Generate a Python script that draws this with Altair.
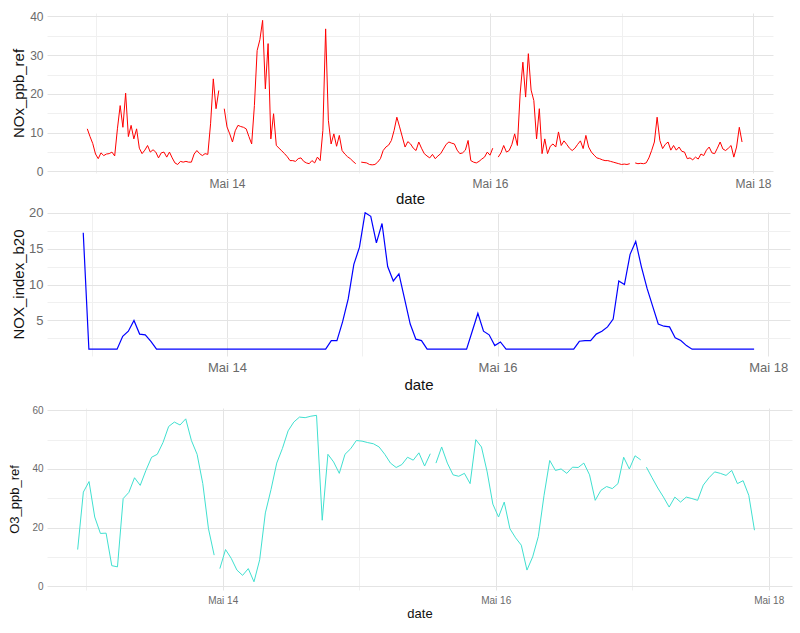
import altair as alt
import pandas as pd
from datetime import datetime, timedelta

FONT = "Liberation Sans"

# ---------------- data ----------------
series_start = datetime(2024, 5, 12, 22, 30)

# NOx_ppb_ref, half-hourly (None = missing)
nox_ppb_ref = [
    11.0, 9.0, 7.2, 4.5, 3.3, 4.8, 4.1, 4.5, 4.6, 5.0,
    4.0, 11.0, 17.0, 11.4, 20.2, 9.0, 11.9, 8.4, 11.0, 6.0,
    4.6, 5.5, 6.7, 5.0, 5.6, 5.0, 3.5, 4.8, 5.0, 3.7,
    5.0, 3.5, 2.2, 1.8, 2.6, 2.4, 2.6, 2.4, 2.4, 4.5,
    5.4, 4.6, 4.1, 4.6, 4.4, 12.3, 23.9, 16.2, 20.9, None,
    16.2, 11.5, 9.7, 7.6, 10.5, 11.9, 11.6, 11.4, 11.0, 9.0,
    7.1, 17.0, 31.2, 34.0, 39.0, 21.3, 33.0, 8.4, 14.9, 6.7,
    6.0, 5.3, 4.6, 3.8, 2.8, 2.8, 2.6, 3.3, 3.5, 2.6,
    2.2, 2.0, 2.8, 2.2, 3.7, 2.8, 10.6, 36.8, 13.2, 7.1,
    9.7, 6.5, 9.3, 5.4, 4.5, 3.8, 3.3, 2.6, 2.0, None,
    2.4, 2.3, 2.2, 1.8, 1.7, 1.8, 2.4, 3.3, 5.4, 6.3,
    6.8, 8.0, 10.6, 14.0, 11.5, 8.9, 6.3, 7.7, 7.1, 6.0,
    5.4, 7.6, 6.0, 4.6, 4.0, 3.5, 4.4, 3.3, 4.0, 4.6,
    5.8, 7.0, 7.6, 7.3, 7.1, 5.5, 4.6, 4.8, 5.5, 8.0,
    2.8, 2.4, 2.2, 2.6, 3.2, 3.7, 5.0, 4.2, 6.0, None,
    3.7, 4.8, 6.7, 5.0, 5.4, 7.0, 9.7, 6.7, 20.0, 28.2,
    19.2, 30.4, 21.0, 18.3, 8.4, 16.2, 4.6, 8.4, 4.6, 6.5,
    7.1, 6.3, 10.2, 6.7, 7.9, 7.0, 6.0, 5.4, 6.0, 7.0,
    7.9, 5.9, 9.3, 6.3, 5.0, 4.2, 3.5, 3.3, 3.0, 2.8,
    2.8, 2.6, 2.4, 2.2, 2.0, 1.8, 1.9, 1.8, 2.0, None,
    2.2, 2.0, 2.1, 2.0, 2.2, 3.5, 5.4, 7.6, 14.0, 8.0,
    5.9, 7.0, 7.6, 5.5, 6.7, 5.5, 6.3, 5.2, 5.0, 3.3,
    3.5, 3.0, 3.7, 3.2, 4.5, 4.1, 5.5, 6.3, 4.8, 4.6,
    6.0, 7.6, 5.8, 5.4, 6.0, 6.7, 3.7, 6.3, 11.4, 7.6,
]

# NOX_index_b20, hourly
nox_index_b20 = [
    17.2, 1, 1, 1, 1, 1, 1, 2.8, 3.5, 5.0,
    3.1, 3.0, 2.1, 1, 1, 1, 1, 1, 1, 1,
    1, 1, 1, 1, 1, 1, 1, 1, 1, 1,
    1, 1, 1, 1, 1, 1, 1, 1, 1, 1,
    1, 1, 1, 1, 2.2, 2.2, 4.8, 8.0, 12.8, 15.2,
    20.0, 19.5, 15.8, 18.5, 12.5, 10.5, 11.5, 8.0, 4.5, 2.4,
    2.2, 1, 1, 1, 1, 1, 1, 1, 1, 3.5,
    6.0, 3.5, 3.0, 1.5, 2.0, 1, 1, 1, 1, 1,
    1, 1, 1, 1, 1, 1, 1, 1, 2.1, 2.2,
    2.2, 3.1, 3.5, 4.1, 5.2, 10.5, 10.0, 14.2, 16.0, 12.5,
    9.5, 7.0, 4.5, 4.2, 4.1, 2.6, 2.2, 1.5, 1, 1,
    1, 1, 1, 1, 1, 1, 1, 1, 1, 1,
]

# O3_ppb_ref, hourly
o3_ppb_ref = [
    12.5, 32.1, 35.7, 23.6, 18.0, 18.1, 7.0, 6.6, 29.9, 32.0,
    37.0, 34.4, 39.5, 44.0, 45.0, 49.0, 54.5, 56.0, 55.0, 57.1,
    49.7, 45.0, 35.0, 19.6, 10.6, 6.0, 12.5, 9.5, 5.5, 3.7,
    6.0, 1.5, 9.0, 25.0, 33.0, 42.0, 47.0, 53.0, 56.0, 57.7,
    57.5, 58.0, 58.3, 22.5, 45.0, 42.4, 38.5, 45.0, 46.9, 49.7,
    49.5, 49.0, 48.6, 47.5, 45.0, 42.0, 40.5, 41.5, 44.0, 43.0,
    45.5, 41.0, 45.2, 42.0, 47.5, 42.0, 38.0, 37.5, 38.5, 35.0,
    50.0, 47.5, 39.0, 28.0, 23.6, 28.7, 19.6, 16.5, 14.0, 5.5,
    10.0, 17.0, 31.0, 42.9, 39.5, 40.0, 38.5, 40.6, 40.5, 42.0,
    38.0, 29.3, 32.7, 34.0, 33.3, 35.0, 44.0, 40.0, 44.5, 43.1,
    40.6, 37.0, 33.5, 30.4, 27.0, 30.4, 28.7, 30.4, 29.9, 29.3,
    34.5, 37.0, 39.0, 38.5, 37.8, 39.5, 35.0, 36.0, 31.0, 19.1,
]
o3_gap_hours = [24.5, 62.5, 99.5]

x_tick_days = [13, 14, 15, 16, 17, 18]
nox_y_ticks = [0, 5, 10, 15, 20, 25, 30, 35, 40]
idx_y_ticks = [2.5, 5, 7.5, 10, 12.5, 15, 17.5, 20]
o3_y_ticks = [0, 10, 20, 30, 40, 50, 60]


def iso(t):
    return t.strftime("%Y-%m-%dT%H:%M:%S")


nox_df = pd.DataFrame({
    "date": [iso(series_start + timedelta(minutes=30 * i)) for i in range(len(nox_ppb_ref))],
    "NOx_ppb_ref": nox_ppb_ref,
})
idx_df = pd.DataFrame({
    "date": [iso(series_start + timedelta(hours=i)) for i in range(len(nox_index_b20))],
    "NOX_index_b20": nox_index_b20,
})
o3_rows = [(series_start + timedelta(hours=i), v) for i, v in enumerate(o3_ppb_ref)]
o3_rows += [(series_start + timedelta(hours=h), None) for h in o3_gap_hours]
o3_rows.sort(key=lambda r: r[0])
o3_df = pd.DataFrame({"date": [iso(t) for t, _ in o3_rows], "O3_ppb_ref": [v for _, v in o3_rows]})


# ---------------- helpers ----------------
def dt(t):
    return alt.DateTime(year=t.year, month=t.month, date=t.day, hours=t.hour,
                        minutes=t.minute, seconds=t.second)


may14 = datetime(2024, 5, 14)


def x_domain(px_may14, px_per_day, left, width):
    start = may14 - timedelta(days=(px_may14 - left) / px_per_day)
    end = start + timedelta(days=width / px_per_day)
    return [dt(start), dt(end)]


MAJOR = "#E4E4E4"
MINOR = "#F0F0F0"


def x_axis(label_size, title_size, label_pad, title_pad, title="date", line_height=None):
    kw = {}
    if line_height is not None:
        kw["titleLineHeight"] = line_height
    return alt.Axis(
        values=[alt.DateTime(year=2024, month=5, date=d) for d in x_tick_days],
        labelExpr="date(datum.value) % 2 == 0 ? 'Mai ' + date(datum.value) : ''",
        title=title,
        labelFont=FONT, titleFont=FONT,
        labelFontSize=label_size, titleFontSize=title_size,
        labelColor="#6A6A6A", titleColor="#111111",
        titleFontWeight="normal",
        labelPadding=label_pad, titlePadding=title_pad,
        labelFlush=False, labelOverlap=False, labelBound=False,
        domain=False, ticks=False,
        grid=True,
        gridColor={"condition": {"test": "date(datum.value) % 2 == 1", "value": MINOR}, "value": MAJOR},
        gridWidth=1,
        **kw,
    )


def y_axis(values, major_step, label_size, title_size, title_x):
    return alt.Axis(
        values=values,
        labelExpr=f"datum.value % {major_step} == 0 ? datum.label : ''",
        labelFont=FONT, titleFont=FONT,
        labelFontSize=label_size, titleFontSize=title_size,
        labelColor="#6A6A6A", titleColor="#111111",
        titleFontWeight="normal",
        labelPadding=4,
        titleX=title_x, titleBaseline="middle",
        labelFlush=False, labelOverlap=False, labelBound=False,
        domain=False, ticks=False,
        grid=True,
        gridColor={"condition": {"test": f"datum.value % {major_step} != 0", "value": MINOR}, "value": MAJOR},
        gridWidth=1,
    )


LEFT = 47

p1 = alt.Chart(nox_df).mark_line(color="#FF0000", strokeWidth=1, clip=True).encode(
    x=alt.X("date:T", scale=alt.Scale(domain=x_domain(227, 131.5, LEFT, 726), nice=False),
            axis=x_axis(12, 15, 5, 2)),
    y=alt.Y("NOx_ppb_ref:Q", scale=alt.Scale(domain=[-0.4, 40.9], nice=False, zero=False),
            axis=y_axis(nox_y_ticks, 10, 12, 15, -29)),
).properties(width=726, height=160)

p2 = alt.Chart(idx_df).mark_line(color="#0000FF", strokeWidth=1.2, clip=True).encode(
    x=alt.X("date:T", scale=alt.Scale(domain=x_domain(227, 135.3, LEFT, 743), nice=False),
            axis=x_axis(13, 15, 5, 3, title=["date", ""], line_height=13)),
    y=alt.Y("NOX_index_b20:Q", scale=alt.Scale(domain=[0.05, 20.1], nice=False, zero=False),
            axis=y_axis(idx_y_ticks, 5, 13, 15, -29)),
).properties(width=743, height=144)

p3 = alt.Chart(o3_df).mark_line(color="#40E0D0", strokeWidth=1, clip=True).encode(
    x=alt.X("date:T", scale=alt.Scale(domain=x_domain(222.7, 136.5, LEFT, 745), nice=False),
            axis=x_axis(10, 13, 5, 2)),
    y=alt.Y("O3_ppb_ref:Q", scale=alt.Scale(domain=[-1.3, 60.8], nice=False, zero=False),
            axis=y_axis(o3_y_ticks, 20, 10, 13, -33)),
).properties(width=745, height=182)

chart = alt.vconcat(p1, p2, p3, spacing=0).properties(
    padding={"left": 8, "top": 10, "right": 3, "bottom": 2},
    background="white",
).configure_view(stroke=None)

chart.save("out.html", embed_options={"renderer": "svg", "actions": False})
